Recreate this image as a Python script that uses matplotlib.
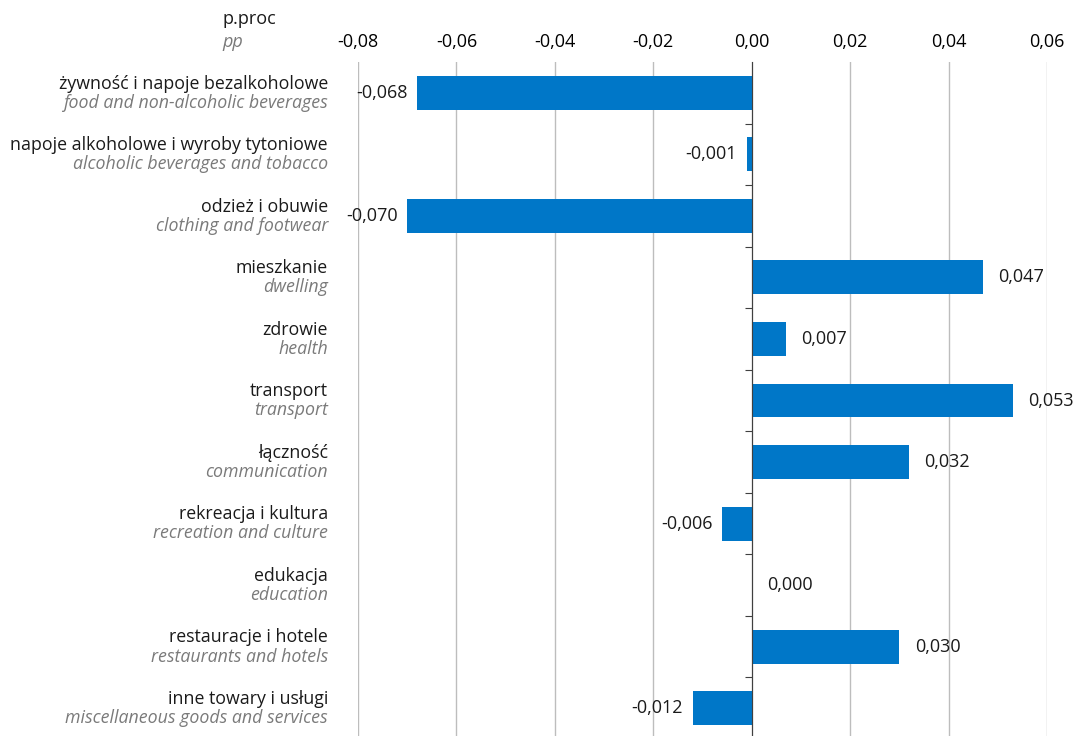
import matplotlib
matplotlib.use("Agg")
import matplotlib.pyplot as plt
import matplotlib.transforms as mtransforms

labels_pl = ["żywność i napoje bezalkoholowe", "napoje alkoholowe i wyroby tytoniowe",
             "odzież i obuwie", "mieszkanie", "zdrowie", "transport", "łączność",
             "rekreacja i kultura", "edukacja", "restauracje i hotele", "inne towary i usługi"]
labels_en = ["food and non-alcoholic beverages", "alcoholic beverages and tobacco",
             "clothing and footwear", "dwelling", "health", "transport", "communication",
             "recreation and culture", "education", "restaurants and hotels",
             "miscellaneous goods and services"]
values = [-0.068, -0.001, -0.070, 0.047, 0.007, 0.053, 0.032, -0.006, 0.000, 0.030, -0.012]
xticks = [-0.08, -0.06, -0.04, -0.02, 0.00, 0.02, 0.04, 0.06]

plt.rcParams['font.family'] = ['Open Sans', 'DejaVu Sans']

W, H = 1074, 736
fig = plt.figure(figsize=(W/100, H/100), dpi=100)
left, right, top, bottom = 358, 1047, 62, 739
ax = fig.add_axes([left/W, 1-bottom/H, (right-left)/W, (bottom-top)/H])

n = len(values)
ypos = list(range(n))
ax.barh(ypos, values, height=0.55, color="#0077c8", zorder=3)
ax.set_xlim(-0.08, 0.06)
ax.set_ylim(n-0.5, -0.5)

ax.set_xticks(xticks)
ax.set_xticklabels([f"{t:.2f}".replace(".", ",") for t in xticks], fontsize=13)
ax.xaxis.tick_top()
ax.tick_params(axis='x', length=0, pad=8)
ax.grid(axis='x', color="#bdbdbd", linewidth=1, zorder=0)
for s in ['top', 'right', 'bottom']:
    ax.spines[s].set_visible(False)
ax.spines['left'].set_position(('data', 0))
ax.spines['left'].set_color("#404040")
ax.spines['left'].set_zorder(4)
ax.set_yticks([i + 0.5 for i in range(n-1)])
ax.set_yticklabels([])
ax.tick_params(axis='y', direction='out', length=5, color="#404040")

trans = mtransforms.blended_transform_factory(fig.transFigure, ax.transData)
xl = 328 / W
for i in range(n):
    ax.text(xl, i - 0.15, labels_pl[i], transform=trans, ha='right', va='center',
            fontsize=12.8, color="#1a1a1a")
    ax.text(xl, i + 0.16, labels_en[i], transform=trans, ha='right', va='center',
            fontsize=12.8, color="#7a7a7a", style='italic')

for i, v in enumerate(values):
    txt = f"{v:.3f}".replace(".", ",")
    if v < 0:
        ax.annotate(txt, (v, i), xytext=(-7, 0), textcoords='offset points',
                    ha='right', va='center', fontsize=13, color="#1a1a1a")
    else:
        ax.annotate(txt, (v, i), xytext=(11, 0), textcoords='offset points',
                    ha='left', va='center', fontsize=13, color="#1a1a1a")

fig.text(222/W, 1-19/H, "p.proc", ha='left', va='center', fontsize=13, color="#1a1a1a")
fig.text(222/W, 1-42/H, "pp", ha='left', va='center', fontsize=13, color="#7a7a7a", style='italic')

fig.savefig("out.png", dpi=100)
